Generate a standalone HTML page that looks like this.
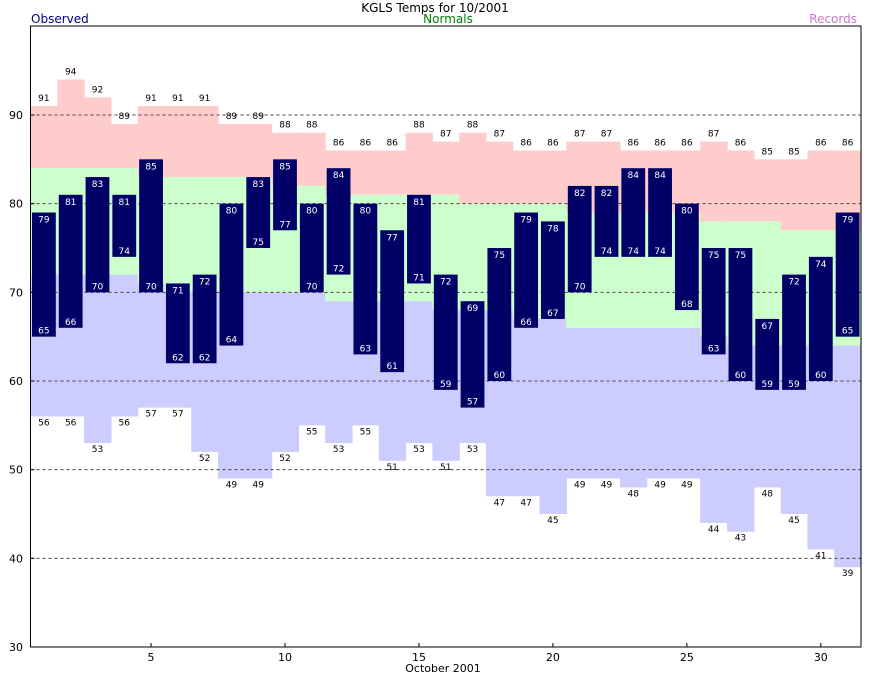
<!DOCTYPE html>
<html><head><meta charset="utf-8"><style>
body{margin:0;background:#fff;}
svg text{font-family:"DejaVu Sans","Liberation Sans",sans-serif;}
</style></head><body>
<svg id="c" width="870" height="676" xmlns="http://www.w3.org/2000/svg"></svg>
<script>
const days=[1,2,3,4,5,6,7,8,9,10,11,12,13,14,15,16,17,18,19,20,21,22,23,24,25,26,27,28,29,30,31];
const obsHigh=[79,81,83,81,85,71,72,80,83,85,80,84,80,77,81,72,69,75,79,78,82,82,84,84,80,75,75,67,72,74,79];
const obsLow=[65,66,70,74,70,62,62,64,75,77,70,72,63,61,71,59,57,60,66,67,70,74,74,74,68,63,60,59,59,60,65];
const recHigh=[91,94,92,89,91,91,91,89,89,88,88,86,86,86,88,87,88,87,86,86,87,87,86,86,86,87,86,85,85,86,86];
const recLow=[56,56,53,56,57,57,52,49,49,52,55,53,55,51,53,51,53,47,47,45,49,49,48,49,49,44,43,48,45,41,39];
const normHigh=[84,84,84,84,83,83,83,83,83,82,82,81,81,81,81,81,80,80,80,80,79,79,79,79,79,78,78,78,77,77,77];
const normLow=[72,72,72,72,71,70,70,70,70,70,70,69,69,69,69,68,68,68,67,67,66,66,66,66,66,65,64,64,64,64,64];
const yTicks=[30,40,50,60,70,80,90];
const xTicks=[5,10,15,20,25,30];

const NS="http://www.w3.org/2000/svg";
const svg=document.getElementById('c');
const L=30.5,R=861,T=26,B=647;
const bw=(R-L)/days.length;
function y(v){return 647-(v-30)*(532/60);}
function xl(d){return L+(d-1)*bw;}
function xc(d){return xl(d)+bw/2;}
function el(tag,attrs,name,txt){const e=document.createElementNS(NS,tag);for(const k in attrs)e.setAttribute(k,attrs[k]);


if(txt!==undefined)e.textContent=txt;svg.appendChild(e);return e;}

el('rect',{x:L,y:T,width:R-L,height:B-T,fill:'#fff'},'plot-background');
days.forEach((d,i)=>{
  const x=xl(d),w=bw+0.6;
  el('rect',{x:x,y:y(recHigh[i]),width:w,height:y(normHigh[i])-y(recHigh[i]),fill:'#ffcccc'},'record-high-band');
  el('rect',{x:x,y:y(normHigh[i]),width:w,height:y(normLow[i])-y(normHigh[i]),fill:'#ccffcc'},'normal-band');
  el('rect',{x:x,y:y(normLow[i]),width:w,height:y(recLow[i])-y(normLow[i]),fill:'#ccccff'},'record-low-band');
});
yTicks.slice(1).forEach(v=>{
  el('line',{x1:L,x2:R,y1:y(v),y2:y(v),stroke:'#444','stroke-dasharray':'3,3','stroke-width':1},'gridline-'+v);
});
days.forEach((d,i)=>{
  const cx=xc(d);
  el('text',{x:cx,y:y(recHigh[i])-5,'font-size':9,'text-anchor':'middle',fill:'#000'},'record-high-label',recHigh[i]);
  el('text',{x:cx,y:y(recLow[i])+9,'font-size':9,'text-anchor':'middle',fill:'#000'},'record-low-label',recLow[i]);
  el('rect',{x:xl(d)+1.5,y:y(obsHigh[i]),width:bw-3,height:y(obsLow[i])-y(obsHigh[i]),fill:'#000066'},'observed-bar-day-'+d);
  el('text',{x:cx,y:y(obsHigh[i])+10,'font-size':9,'text-anchor':'middle',fill:'#fff'},'observed-high-label',obsHigh[i]);
  el('text',{x:cx,y:y(obsLow[i])-3,'font-size':9,'text-anchor':'middle',fill:'#fff'},'observed-low-label',obsLow[i]);
});
el('rect',{x:L,y:T,width:R-L,height:B-T,fill:'none',stroke:'#000','stroke-width':1},'plot-frame');
yTicks.forEach(v=>{
  el('text',{x:23,y:y(v)+4,'font-size':11,'text-anchor':'end',fill:'#000'},'y-tick-'+v,v);
  el('line',{x1:L,x2:L+4,y1:y(v),y2:y(v),stroke:'#000'},'y-tick-mark');
});
xTicks.forEach(d=>{
  el('text',{x:xc(d),y:661,'font-size':11,'text-anchor':'middle',fill:'#000'},'x-tick-'+d,d);
  el('line',{x1:xc(d),x2:xc(d),y1:B,y2:B-4,stroke:'#000'},'x-tick-mark');
});
el('text',{x:435,y:12,'font-size':12,'text-anchor':'middle',fill:'#000'},'chart-title','KGLS Temps for 10/2001');
el('text',{x:31,y:23,'font-size':12,fill:'#000080'},'legend-observed','Observed');
el('text',{x:448,y:23,'font-size':12,'text-anchor':'middle',fill:'#008000'},'legend-normals','Normals');
el('text',{x:857,y:23,'font-size':12,'text-anchor':'end',fill:'#cc77cc'},'legend-records','Records');
el('text',{x:443,y:672,'font-size':11,'text-anchor':'middle',fill:'#000'},'x-axis-title','October 2001');
</script>
</body></html>
